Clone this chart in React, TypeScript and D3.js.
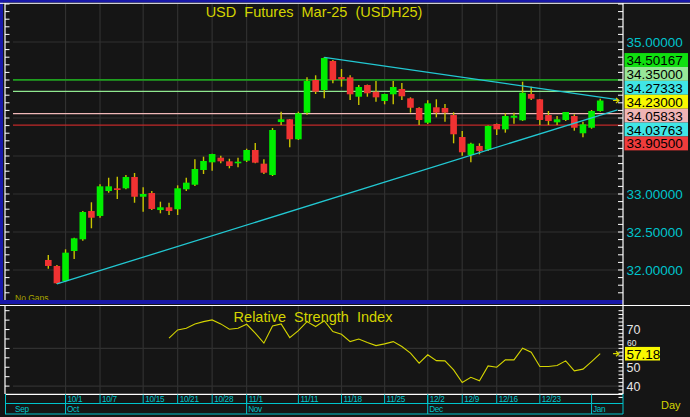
import React from 'react';
import * as d3 from 'd3';

const W = 690;
const H = 417;

// Daily OHLC, index 0 = 9/27/2024 ... index 64 = 1/3/2025
const opens = [
  32.132, 32.053, 31.855, 32.250, 32.404, 32.776, 32.711, 33.039, 33.075, 33.075,
  33.224, 32.964, 33.013, 32.789, 32.825, 32.799, 33.062, 33.122, 33.316, 33.417,
  33.478, 33.430, 33.404, 33.438, 33.579, 33.399, 33.250, 33.947, 33.983, 33.720,
  34.070, 34.500, 34.368, 34.750, 34.539, 34.535, 34.280, 34.434, 34.346, 34.224,
  34.312, 34.382, 34.259, 34.132, 33.938, 34.141, 34.132, 34.039, 33.750, 33.513,
  33.632, 33.583, 33.921, 33.851, 34.004, 33.970, 34.316, 34.246, 34.039, 33.943,
  33.974, 34.026, 33.799, 33.872, 34.092,
];
const highs = [
  32.197, 32.066, 32.272, 32.425, 32.776, 32.891, 33.128, 33.214, 33.228, 33.250,
  33.276, 33.088, 33.039, 32.899, 32.885, 33.114, 33.214, 33.457, 33.491, 33.530,
  33.504, 33.464, 33.478, 33.596, 33.671, 33.457, 33.868, 34.083, 33.987, 34.083,
  34.535, 34.562, 34.799, 34.763, 34.645, 34.562, 34.434, 34.440, 34.487, 34.320,
  34.487, 34.461, 34.272, 34.140, 34.233, 34.246, 34.184, 34.075, 33.829, 33.675,
  33.667, 33.900, 33.928, 34.062, 34.070, 34.478, 34.412, 34.250, 34.092, 34.026,
  34.080, 34.049, 33.951, 34.105, 34.254,
];
const lows = [
  32.017, 31.816, 31.846, 32.145, 32.385, 32.549, 32.688, 33.017, 32.934, 33.062,
  32.885, 32.767, 32.789, 32.746, 32.724, 32.724, 33.039, 33.105, 33.263, 33.307,
  33.404, 33.338, 33.351, 33.421, 33.404, 33.263, 33.237, 33.908, 33.614, 33.711,
  34.043, 34.316, 34.259, 34.457, 34.412, 34.237, 34.171, 34.280, 34.214, 34.180,
  34.180, 34.237, 34.070, 33.908, 33.921, 34.009, 33.951, 33.667, 33.504, 33.417,
  33.522, 33.566, 33.776, 33.807, 33.925, 33.961, 34.237, 33.908, 33.908, 33.908,
  33.961, 33.833, 33.746, 33.859, 34.083,
];
const closes = [
  32.053, 31.825, 32.228, 32.417, 32.763, 32.688, 33.101, 33.101, 33.053, 33.224,
  32.964, 33.000, 32.803, 32.825, 32.776, 33.075, 33.149, 33.329, 33.434, 33.526,
  33.430, 33.368, 33.425, 33.579, 33.412, 33.280, 33.842, 33.983, 33.720, 34.062,
  34.487, 34.346, 34.789, 34.500, 34.509, 34.312, 34.408, 34.325, 34.272, 34.316,
  34.408, 34.286, 34.135, 33.974, 34.193, 34.070, 34.070, 33.786, 33.549, 33.662,
  33.566, 33.895, 33.851, 34.026, 34.030, 34.333, 34.254, 33.974, 33.961, 33.983,
  34.079, 33.872, 33.917, 34.092, 34.230,
];

const weekTickIdx = [2, 6, 11, 15, 19, 23, 29, 34, 39, 44, 48, 52, 57];
const weekTickLabels = ['10/1', '10/7', '10/15', '10/21', '10/28', '11/1', '11/11', '11/18', '11/25', '12/2', '12/9', '12/16', '12/23'];
const monthTickIdx = [2, 23, 44, 63];
const monthTickLabels = ['Oct', 'Nov', 'Dec', 'Jan'];
const firstMonthLabel = 'Sep';

const rsiStartIdx = 14;
const rsiValues = [
  65.4, 69.8, 70.7, 73.0, 74.2, 75.1, 73.0, 70.2, 70.7, 72.8,
  68.1, 62.8, 71.9, 73.0, 65.7, 69.4, 74.2, 71.6, 74.7, 68.9,
  67.5, 63.6, 65.0, 63.1, 61.5, 62.4, 63.6, 61.0, 57.5, 52.2,
  56.6, 53.5, 53.4, 48.6, 41.9, 44.7, 42.8, 50.7, 50.0, 53.9,
  53.9, 60.1, 58.0, 50.4, 50.4, 50.9, 53.4, 48.1, 49.0, 53.0,
  57.18,
];

const levelValues = [34.50167, 34.35, 34.05833, 33.905];
const trendStartIdx = [32, 1];
const trendEndValues = [34.27333, 34.03763];
const lastPrice = 34.23;

const priceTicks = [35, 34.5, 34, 33.5, 33, 32.5, 32];
const rsiTicks = [70, 60, 50, 40];
const rsiGrid = [60, 40];

const title = 'USD  Futures  Mar-25  (USDH25)';
const rsiTitle = 'Relative  Strength  Index';

// ---- styles ----
const BG = '#151515';
const GRID = '#303030';
const BLUE = '#1818a8';
const CYAN = '#00c4cc';
const YEL = '#d4d400';
const WICK = '#c8c400';
const GREEN = '#00ee00';
const RED = '#f03232';
const FONT = '"Liberation Sans", Arial, sans-serif';
const levelLineColors = ['#1e9e1e', '#90e890', '#f0b8b8', '#c02828'];
const levelBoxColors = ['#10e010', '#98e698', '#f0b4b4', '#f03c3c'];
const trendBoxColor = '#40e6e6';
const lastBoxColor = '#f8f800';

const PL = 13, PR = 622, MT = 4, MB = 300, RT = 306, RB = 394;

export default function App() {
  const n = closes.length;
  const x = d3.scaleLinear().domain([0, n - 1]).range([48.3, 600.2]);
  const y = d3.scaleLinear().domain([32, 35]).range([270, 42]);
  const yr = d3.scaleLinear().domain([40, 60]).range([386.1, 348.4]);
  const fmt = d3.format('.5f');
  const endIdx = x.invert(617.5);

  const trends = trendStartIdx.map((i0, k) => {
    const p0 = k === 0 ? highs[i0] : lows[i0];
    const p1 = trendEndValues[k];
    const slope = (p1 - p0) / (n - 1 - i0);
    return { i0, p0, i1: endIdx, p1e: p1 + slope * (endIdx - (n - 1)) };
  });

  // right axis label boxes, stacked around last price
  type Lab = { v: number; fill: string };
  const labs: Lab[] = [
    ...levelValues.map((v, i) => ({ v, fill: levelBoxColors[i] })),
    ...trendEndValues.map((v) => ({ v, fill: trendBoxColor })),
    { v: lastPrice, fill: lastBoxColor },
  ].sort((a, b) => b.v - a.v);
  const BH = 13.9;
  const kLast = labs.findIndex((l) => l.v === lastPrice);
  const yLastC = y(lastPrice) + 1.2;
  const boxTop = yLastC - kLast * BH - BH / 2;
  const boxBottom = yLastC + (labs.length - 1 - kLast) * BH + BH / 2;
  const visiblePriceTicks = priceTicks.filter((p) => y(p) + 6 < boxTop || y(p) - 6 > boxBottom);

  const rsiLine = d3
    .line<number>()
    .x((_, i) => x(i + rsiStartIdx))
    .y((d) => yr(d));

  const leftTicks = d3.range(317, 356).map((v) => v / 10);
  const rsiRightTicks = d3.range(34, 81, 2);
  const rsiLeftTicks = d3.range(40, 81, 5);
  const rsiLastVal = rsiValues[rsiValues.length - 1];
  const rsiBoxTop = yr(rsiLastVal) - 6.8;

  return (
    <svg width={W} height={H} style={{ position: 'absolute', left: 0, top: 0, display: 'block' }} fontFamily={FONT}>
      <rect x={0} y={0} width={W} height={H} fill={BG} />

      {/* grid main */}
      {priceTicks.map((p) => (
        <line key={'hg' + p} x1={PL} x2={PR} y1={y(p)} y2={y(p)} stroke={GRID} strokeWidth={1.2} />
      ))}
      {weekTickIdx.map((i) => (
        <line key={'vg' + i} x1={x(i)} x2={x(i)} y1={MT} y2={MB} stroke={GRID} strokeWidth={1.2} />
      ))}
      {/* grid rsi */}
      {rsiGrid.map((r) => (
        <line key={'rg' + r} x1={PL} x2={PR} y1={yr(r)} y2={yr(r)} stroke={GRID} strokeWidth={1.2} />
      ))}
      {weekTickIdx.map((i) => (
        <line key={'rvg' + i} x1={x(i)} x2={x(i)} y1={RT} y2={RB} stroke={GRID} strokeWidth={1.2} />
      ))}

      {/* level lines */}
      {levelValues.map((v, i) => (
        <line key={'lv' + i} x1={PL} x2={PR} y1={y(v)} y2={y(v)} stroke={levelLineColors[i]} strokeWidth={i === 0 ? 1.8 : 1.3} />
      ))}

      {/* candles */}
      {closes.map((c, i) => {
        const o = opens[i];
        const up = c >= o;
        const top = y(Math.max(o, c));
        const h = Math.max(1.6, Math.abs(y(o) - y(c)));
        return (
          <g key={'c' + i}>
            <line x1={x(i)} x2={x(i)} y1={y(highs[i])} y2={y(lows[i])} stroke={WICK} strokeWidth={1.4} />
            <rect x={x(i) - 3.3} y={top} width={6.6} height={h} fill={up ? GREEN : RED} />
          </g>
        );
      })}

      {/* trendlines */}
      {trends.map((t, k) => (
        <line key={'t' + k} x1={x(t.i0)} y1={y(t.p0)} x2={x(t.i1)} y2={y(t.p1e)} stroke="#22c8d2" strokeWidth={1.3} />
      ))}

      {/* last price arrow */}
      <path
        d={`M${613},${y(lastPrice)} L${619},${y(lastPrice)} M${616},${y(lastPrice) - 2.5} L${619},${y(lastPrice)} L${616},${y(lastPrice) + 2.5}`}
        stroke={YEL}
        strokeWidth={1.2}
        fill="none"
      />

      {/* titles */}
      <text x={314} y={16.5} fontSize={14.5} fill={YEL} textAnchor="middle" style={{ whiteSpace: 'pre' }}>
        {title}
      </text>
      <text x={15} y={300.5} fontSize={8.5} fill="#a8a400">No Gaps</text>

      {/* RSI */}
      <path d={rsiLine(rsiValues) || ''} fill="none" stroke={YEL} strokeWidth={1.1} />
      <text x={313} y={321.5} fontSize={14.5} fill={YEL} textAnchor="middle" style={{ whiteSpace: 'pre' }}>
        {rsiTitle}
      </text>
      <path
        d={`M${613},${yr(rsiLastVal)} L${619},${yr(rsiLastVal)} M${616},${yr(rsiLastVal) - 2.5} L${619},${yr(rsiLastVal)} L${616},${yr(rsiLastVal) + 2.5}`}
        stroke={YEL}
        strokeWidth={1.2}
        fill="none"
      />

      {/* frame */}
      <rect x={0} y={0} width={W} height={2.5} fill={BLUE} />
      <rect x={0} y={0} width={3} height={304} fill={BLUE} />
      <rect x={0} y={300} width={623} height={4} fill={BLUE} />
      <line x1={0} x2={W} y1={3.3} y2={3.3} stroke="#ffffff" strokeWidth={1} />
      <line x1={0} x2={W} y1={305.5} y2={305.5} stroke="#ffffff" strokeWidth={1} />
      <line x1={5} x2={5} y1={3} y2={300} stroke="#ffffff" strokeWidth={1.2} />
      <line x1={5} x2={5} y1={306} y2={394} stroke="#ffffff" strokeWidth={1.2} />
      <line x1={623} x2={623} y1={3} y2={394} stroke="#ffffff" strokeWidth={1.2} />
      <line x1={5} x2={623} y1={394.3} y2={394.3} stroke="#ffffff" strokeWidth={1.2} />

      {/* axis ticks main */}
      {leftTicks.map((p) => (
        <g key={'lt' + p}>
          <line x1={5} x2={9.5} y1={y(p)} y2={y(p)} stroke="#ffffff" strokeWidth={1} />
          <line x1={618} x2={623} y1={y(p)} y2={y(p)} stroke="#ffffff" strokeWidth={1} />
        </g>
      ))}
      {rsiLeftTicks.map((r) => (
        <line key={'rlt' + r} x1={5} x2={9.5} y1={yr(r)} y2={yr(r)} stroke="#ffffff" strokeWidth={1} />
      ))}
      {rsiRightTicks.map((r) => (
        <line key={'rrt' + r} x1={618.5} x2={623} y1={yr(r)} y2={yr(r)} stroke="#ffffff" strokeWidth={1} />
      ))}

      {/* price labels */}
      {visiblePriceTicks.map((p) => (
        <text key={'pl' + p} x={626.5} y={y(p) + 5} fontSize={13.5} fill={CYAN}>
          {fmt(p)}
        </text>
      ))}
      {labs.map((l, k) => {
        const cy = yLastC + (k - kLast) * BH;
        return (
          <g key={'lb' + k}>
            <rect x={624.5} y={cy - BH / 2} width={63.5} height={BH} fill={l.fill} />
            <text x={626.5} y={cy + 5} fontSize={13.5} fill="#000000">
              {fmt(l.v)}
            </text>
          </g>
        );
      })}

      {/* rsi labels */}
      {rsiTicks.map((r) => {
        const near = Math.abs(yr(r) - yr(rsiLastVal)) < 10;
        return (
          <text
            key={'rl' + r}
            x={near ? 627 : 626.5}
            y={near ? rsiBoxTop - 1 : yr(r) + 4.5}
            fontSize={near ? 8.5 : 12.5}
            fill="#e6e6e6"
          >
            {r}
          </text>
        );
      })}
      <rect x={625} y={rsiBoxTop} width={35} height={13.6} fill={lastBoxColor} />
      <text x={626.5} y={yr(rsiLastVal) + 5} fontSize={13.5} fill="#000000">
        {rsiLastVal.toFixed(2)}
      </text>

      {/* date axis */}
      <line x1={5} x2={623} y1={403.5} y2={403.5} stroke={CYAN} strokeWidth={1} />
      <line x1={5} x2={623} y1={414} y2={414} stroke={CYAN} strokeWidth={1} />
      <line x1={5.5} x2={5.5} y1={394} y2={414} stroke={CYAN} strokeWidth={1} />
      <line x1={623} x2={623} y1={394} y2={414} stroke={CYAN} strokeWidth={1} />
      {weekTickIdx.map((i, k) => (
        <g key={'wt' + i}>
          <line x1={x(i)} x2={x(i)} y1={394.5} y2={403.5} stroke={CYAN} strokeWidth={1} />
          <text x={x(i) + 2} y={402.3} fontSize={8.2} fill={CYAN} letterSpacing={-0.3}>
            {weekTickLabels[k]}
          </text>
        </g>
      ))}
      {monthTickIdx.map((i, k) => (
        <g key={'mt' + i}>
          <line x1={x(i)} x2={x(i)} y1={394.5} y2={414} stroke={CYAN} strokeWidth={1} />
          <text x={x(i) + 1.5} y={411.5} fontSize={8.2} fill={CYAN} letterSpacing={-0.3}>
            {monthTickLabels[k]}
          </text>
        </g>
      ))}
      <text x={15} y={411.5} fontSize={8.2} fill={CYAN} letterSpacing={-0.3}>{firstMonthLabel}</text>
      <text x={661} y={409} fontSize={11} fill={YEL}>Day</text>
    </svg>
  );
}
